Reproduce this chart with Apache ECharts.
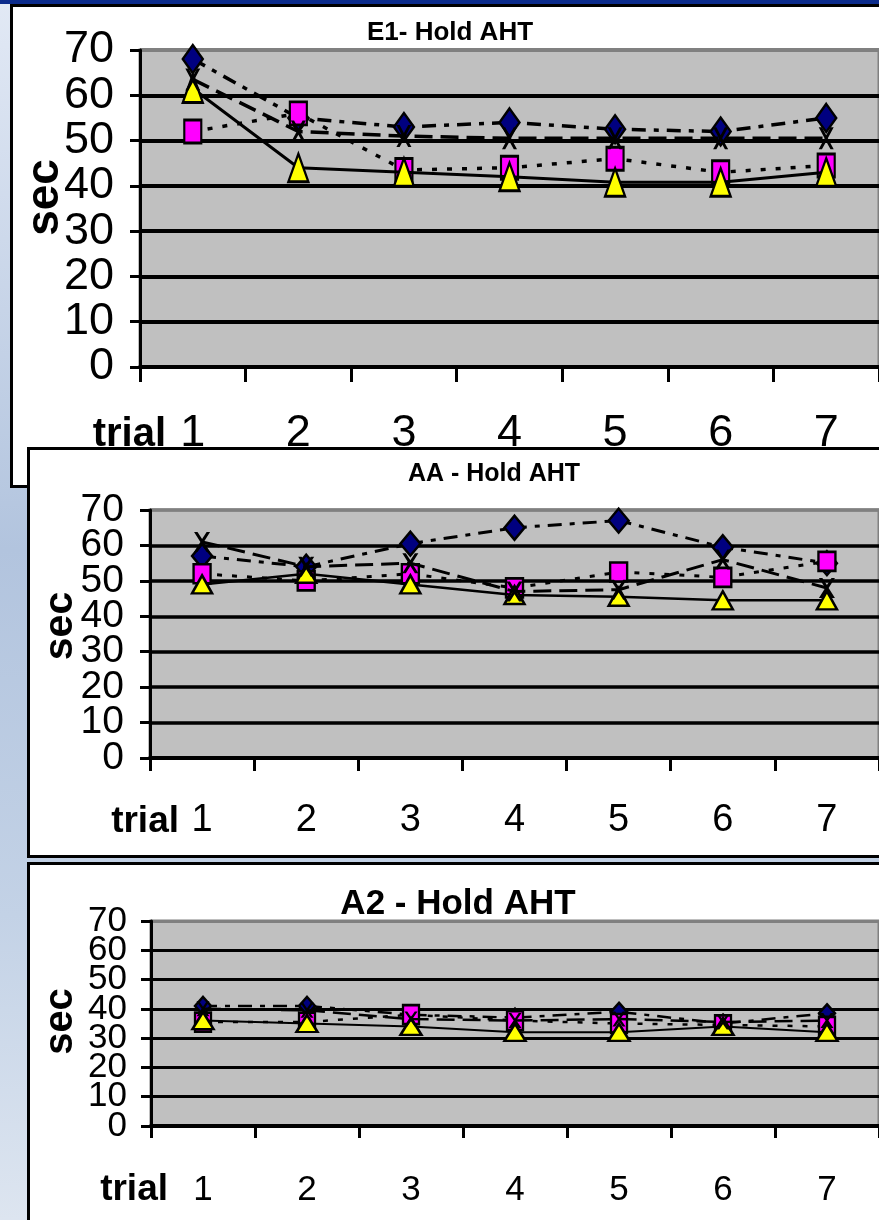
<!DOCTYPE html>
<html><head><meta charset="utf-8">
<script src="https://cdn.jsdelivr.net/npm/echarts@6/dist/echarts.min.js"></script>
<style>html,body{margin:0;padding:0;overflow:hidden;background:#fff}#c{width:879px;height:1220px}</style>
</head><body><div id="c"></div>
<script>
// ---------- data ----------
const categories = ['1', '2', '3', '4', '5', '6', '7'];
const panelTitles = ['E1- Hold AHT', 'AA - Hold AHT', 'A2 - Hold AHT'];
const yAxisName = 'sec';
const xAxisName = 'trial';
const yMin = 0, yMax = 70, yStep = 10;
const yLabelsEven = [0, 20, 40, 60];
const yLabelsOdd = [10, 30, 50, 70];

const e1Diamond  = [68, 55, 53, 54, 52.5, 52, 55];
const e1Square   = [52, 56, 43.5, 44, 46, 43, 44.5];
const e1Triangle = [61.5, 44, 43, 42, 40.8, 40.8, 43];
const e1Cross    = [63.5, 52, 51, 50.5, 50.5, 50.5, 50.5];

const aaDiamond  = [57, 54, 60.5, 65, 67, 59.5, 55];
const aaSquare   = [52, 50, 52, 48, 52.5, 51, 55.5];
const aaTriangle = [49, 52, 49, 46, 45.5, 44.5, 44.5];
const aaCross    = [61, 54, 55, 47, 47.5, 56, 48];

const a2Diamond  = [41, 41, 38, 37, 39, 35, 38.5];
const a2Square   = [35.5, 35.5, 38, 36, 35, 34.5, 34];
const a2Triangle = [36, 35, 34, 32, 32, 34, 32];
const a2Cross    = [40, 39.5, 36.5, 36, 36.5, 35.5, 36];

// ---------- layout / style ----------
const fontSans = "'Liberation Sans',Arial,sans-serif";
const crossPath = 'path://M0,0L3,0L7,5L11,0L14,0L8.5,7L14,14L11,14L7,9L3,14L0,14L5.5,7Z';

const panels = [
  { data: [e1Diamond, e1Square, e1Triangle, e1Cross], title: panelTitles[0],
    grid: {left: 140, top: 50, width: 752, height: 317}, z: 2,
    titleSize: 26, titleX: 445, titleTop: 15,
    yFont: 45, yMargin: 26, xFont: 45, xMargin: 44, trialFont: 40, trialGap: -26,
    secFont: 46, secGap: 72, secShift: 22, gridW: 4, tickX: 15, lw: 3.5,
    sym: [[20, 28], [17, 23], [20, 28], [15, 22]] },
  { data: [aaDiamond, aaSquare, aaTriangle, aaCross], title: panelTitles[1],
    grid: {left: 150, top: 510, width: 745, height: 248}, z: 12,
    titleSize: 25, titleX: 489, titleTop: 457,
    yFont: 39, yMargin: 26, xFont: 38, xMargin: 44, trialFont: 37, trialGap: -29,
    secFont: 41, secGap: 69, secShift: 16, gridW: 3.5, tickX: 13, lw: 3,
    sym: [[20, 24], [17, 19], [20, 18], [16, 20]] },
  { data: [a2Diamond, a2Square, a2Triangle, a2Cross], title: panelTitles[2],
    grid: {left: 151, top: 921, width: 743, height: 205}, z: 22,
    titleSize: 35, titleX: 453, titleTop: 882,
    yFont: 35, yMargin: 24, xFont: 35, xMargin: 47, trialFont: 37, trialGap: -17,
    secFont: 40, secGap: 70, secShift: 4, gridW: 3, tickX: 12, lw: 2.5,
    sym: [[16, 18], [16, 19], [21, 17], [13, 15]] }
];

const seriesLook = [
  {symbol: 'diamond', color: '#000080', dash: [14, 8, 5, 8]},
  {symbol: 'rect', color: '#FF00FF', dash: [5, 10]},
  {symbol: 'triangle', color: '#FFFF00', dash: 'solid'},
  {symbol: crossPath, color: '#000000', dash: [18, 8]}
];

const option = {
  animation: false,
  backgroundColor: 'transparent',
  title: [], grid: [], xAxis: [], yAxis: [], series: [],
  graphic: [
    {type: 'rect', z: 0, shape: {x: 0, y: 0, width: 879, height: 1220},
     style: {fill: new echarts.graphic.LinearGradient(0, 0, 0, 1, [
       {offset: 0, color: '#e2e9f5'}, {offset: 0.45, color: '#b2c4de'},
       {offset: 0.75, color: '#c3d2e6'}, {offset: 1, color: '#dde5f0'}])}},
    {type: 'rect', z: 0, shape: {x: 0, y: 0, width: 879, height: 4}, style: {fill: '#0c2c8c'}},
    {type: 'rect', z: 1, shape: {x: 11.5, y: 5.5, width: 900, height: 481}, style: {fill: '#fff', stroke: '#000', lineWidth: 3}},
    {type: 'rect', z: 10, shape: {x: 28.5, y: 448.5, width: 900, height: 408}, style: {fill: '#fff', stroke: '#000', lineWidth: 3}},
    {type: 'rect', z: 20, shape: {x: 28.5, y: 863.5, width: 900, height: 400}, style: {fill: '#fff', stroke: '#000', lineWidth: 3}}
  ]
};

panels.forEach((p, i) => {
  const z = p.z;
  const labelStyle = {fontFamily: fontSans, fontSize: p.yFont, color: '#000', margin: p.yMargin,
    showMinLabel: true, showMaxLabel: true, hideOverlap: false};
  option.title.push({
    text: p.title, left: p.titleX, top: p.titleTop, textAlign: 'center', z: z + 3,
    textStyle: {fontFamily: fontSans, fontWeight: 'bold', fontSize: p.titleSize, color: '#000'}
  });
  option.grid.push(Object.assign({show: true, backgroundColor: '#C0C0C0', borderColor: '#808080', borderWidth: 3, z: z}, p.grid));
  option.xAxis.push({
    type: 'category', gridIndex: i, data: categories, boundaryGap: true, z: z + 1,
    name: xAxisName, nameLocation: 'start', nameGap: p.trialGap, nameMoveOverlap: false,
    nameTextStyle: {fontFamily: fontSans, fontWeight: 'bold', fontSize: p.trialFont, color: '#000',
      align: 'right', verticalAlign: 'top',
      padding: [Math.round(p.xMargin + 0.77 * (p.xFont - p.trialFont)), 0, 0, 0]},
    axisLine: {lineStyle: {color: '#000', width: 4}},
    axisTick: {show: true, length: p.tickX, lineStyle: {color: '#000', width: 3}},
    axisLabel: {fontFamily: fontSans, fontSize: p.xFont, color: '#000', margin: p.xMargin},
    splitLine: {show: false}
  });
  // main value axis: line, ticks, grid lines, even labels
  option.yAxis.push({
    type: 'value', gridIndex: i, min: yMin, max: yMax, interval: yStep, z: z + 1, position: 'left',
    name: yAxisName, nameLocation: 'middle', nameRotate: 90, nameGap: p.secGap, nameMoveOverlap: false,
    nameTextStyle: {fontFamily: fontSans, fontWeight: 'bold', fontSize: p.secFont, color: '#000',
      padding: [0, 0, 0, p.secShift]},
    axisLine: {show: true, lineStyle: {color: '#000', width: 3}},
    axisTick: {show: true, length: 10, lineStyle: {color: '#000', width: 3}},
    axisLabel: Object.assign({customValues: yLabelsEven}, labelStyle),
    splitLine: {show: true, lineStyle: {color: ['#000', '#000', '#000', '#000', '#000', '#000', '#000', '#808080'], width: p.gridW}}
  });
  // companion axis on the same scale carrying the odd labels (avoids auto-hiding of crowded labels)
  option.yAxis.push({
    type: 'value', gridIndex: i, min: yMin, max: yMax, interval: yStep, z: z + 1, position: 'left', offset: 0,
    axisLine: {show: false}, axisTick: {show: false}, splitLine: {show: false},
    axisLabel: Object.assign({customValues: yLabelsOdd}, labelStyle)
  });
  p.data.forEach((vals, k) => {
    const look = seriesLook[k];
    option.series.push({
      type: 'line', xAxisIndex: i, yAxisIndex: 2 * i, data: vals, z: z + 2 + k * 0.1,
      symbol: look.symbol, symbolSize: p.sym[k], showAllSymbol: true,
      lineStyle: {color: '#000', width: k === 2 ? p.lw - 0.5 : p.lw, type: look.dash},
      itemStyle: {color: look.color, borderColor: '#000', borderWidth: k === 3 ? 0 : 2.5},
      emphasis: {disabled: true}
    });
  });
});

const chart = echarts.init(document.getElementById('c'), null, {renderer: 'canvas'});
chart.setOption(option);
</script></body></html>
